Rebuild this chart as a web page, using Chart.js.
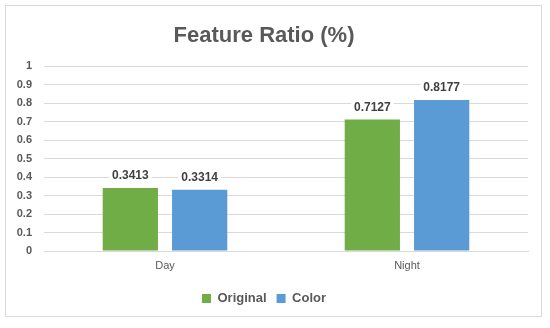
<!DOCTYPE html>
<html>
<head>
<meta charset="utf-8">
<script src="https://cdn.jsdelivr.net/npm/chart.js@4.4.1/dist/chart.umd.min.js"></script>
<style>
  html, body { margin: 0; padding: 0; background: #fff; }
  #frame { position: absolute; left: 5px; top: 5px; width: 537px; height: 312px; border: 1px solid #d9d9d9; box-sizing: border-box; }
  #wrap { position: absolute; left: 0; top: 0; width: 550px; height: 328px; }
</style>
</head>
<body>
<div id="frame"></div>
<div id="wrap"><canvas id="c" width="550" height="328"></canvas></div>
<script>
const categories = ["Day", "Night"];
const originalValues = [0.3413, 0.7127];
const colorValues = [0.3314, 0.8177];
const seriesNames = ["Original", "Color"];
const yTicks = [0, 0.1, 0.2, 0.3, 0.4, 0.5, 0.6, 0.7, 0.8, 0.9, 1];

const FONT = "'Liberation Sans', Arial, sans-serif";
const TXT = "#595959";

const dataLabels = {
  id: "dataLabels",
  afterDatasetsDraw(chart) {
    const ctx = chart.ctx;
    ctx.save();
    ctx.font = "bold 12px " + FONT;
    ctx.textAlign = "center";
    ctx.textBaseline = "bottom";
    chart.data.datasets.forEach((ds, di) => {
      const meta = chart.getDatasetMeta(di);
      meta.data.forEach((bar, i) => {
        const txt = ds.data[i].toFixed(4);
        const w = ctx.measureText(txt).width;
        const y = bar.y - 6;
        ctx.fillStyle = "#fff";
        ctx.fillRect(bar.x - w / 2 - 3, y - 15, w + 6, 17);
        ctx.fillStyle = "#404040";
        ctx.fillText(txt, bar.x, y);
      });
    });
    ctx.restore();
  }
};

new Chart(document.getElementById("c"), {
  type: "bar",
  data: {
    labels: categories,
    datasets: [
      { label: seriesNames[0], data: originalValues, backgroundColor: "#70AD47",
        categoryPercentage: 0.573, barPercentage: 0.797 },
      { label: seriesNames[1], data: colorValues, backgroundColor: "#5B9BD5",
        categoryPercentage: 0.573, barPercentage: 0.797 }
    ]
  },
  options: {
    responsive: false,
    animation: false,
    devicePixelRatio: 1,
    layout: { padding: { left: 0, right: 22, top: 0, bottom: 13 } },
    plugins: {
      title: {
        display: true,
        text: "Feature Ratio (%)",
        color: TXT,
        font: { family: FONT, size: 22, weight: "bold" },
        padding: { top: 23, bottom: 17 }
      },
      legend: {
        position: "bottom",
        labels: {
          color: TXT,
          font: { family: FONT, size: 13, weight: "bold" },
          boxWidth: 9, boxHeight: 9, padding: 10
        }
      },
      tooltip: { enabled: false }
    },
    scales: {
      x: {
        grid: { display: false, drawTicks: false },
        border: { display: true, color: "#d9d9d9" },
        ticks: { color: TXT, font: { family: FONT, size: 11 }, padding: 8 },
        afterFit(s) { s.height = 31; }
      },
      y: {
        min: 0, max: 1,
        afterBuildTicks(s) { s.ticks = yTicks.map(v => ({ value: v })); },
        grid: { color: "#d9d9d9", drawTicks: false },
        border: { display: false },
        ticks: {
          color: TXT, font: { family: FONT, size: 11, weight: "bold" }, padding: 12,
          callback: v => String(v)
        },
        afterFit(s) { s.width = 44; }
      }
    }
  },
  plugins: [dataLabels]
});
</script>
</body>
</html>
